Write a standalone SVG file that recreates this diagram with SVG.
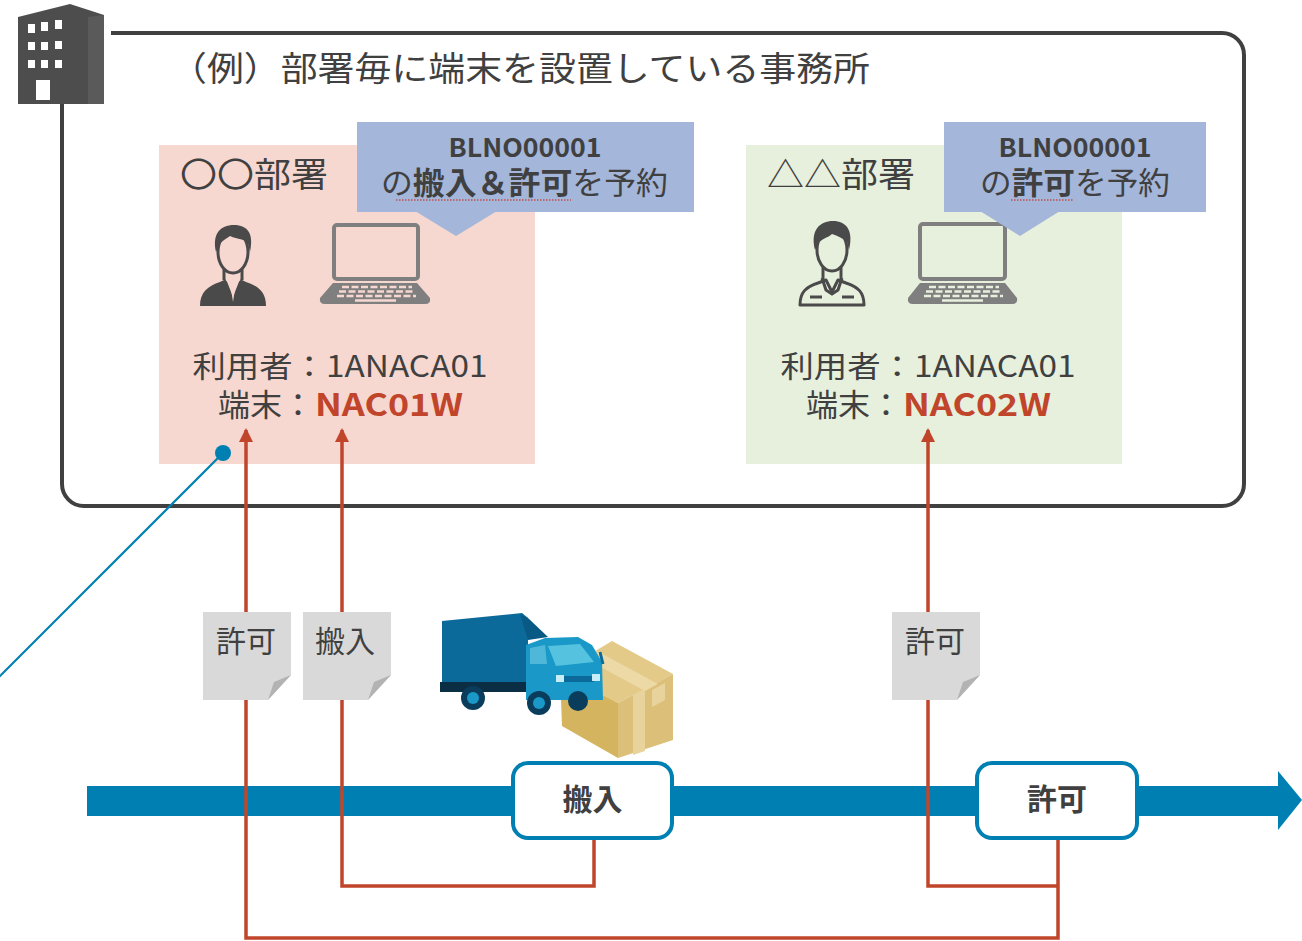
<svg xmlns="http://www.w3.org/2000/svg" width="1302" height="941" viewBox="0 0 1302 941">
  <defs>
    <style>
      .txt { font-family: "Noto Sans CJK JP", "Noto Sans", sans-serif; fill: #404040; }
      .b { font-weight: bold; }
      .red { fill: #c0452b; font-weight: bold; font-family: "Noto Sans CJK JP", "Noto Sans", sans-serif; }
      .flow { fill: none; stroke: #c0452b; stroke-width: 3.5; }
      .note { fill: #d9d9d9; }
      .fold { fill: #b3b3b3; }
      .evt { fill: #ffffff; stroke: #0080b2; stroke-width: 4; }
      .callout { fill: #a4b6d9; }
      .spell { stroke: #c0504d; stroke-width: 1.5; stroke-dasharray: 1.5 1.5; fill: none; }
      .dark { fill: #4a4a4a; }
      .screen { fill: none; stroke: #7f7f7f; stroke-width: 4; }
    </style>
    <marker id="arrowRed" viewBox="0 0 14 14" refX="12" refY="7" markerWidth="14" markerHeight="14" markerUnits="userSpaceOnUse" orient="auto">
      <path d="M0,0 L14,7 L0,14 Z" fill="#c0452b"/>
    </marker>
  </defs>

  <rect width="1302" height="941" fill="#ffffff"/>

  <!-- office frame -->
  <g id="office">
    <path d="M111 33 H1222 A22 22 0 0 1 1244 55 V484 A22 22 0 0 1 1222 506 H84 A22 22 0 0 1 62 484 V100" fill="none" stroke="#404040" stroke-width="4"/>
    <g id="building-icon">
      <polygon points="18,17 70,4 104,15 104,104 18,104" fill="#4d4d4d"/>
      <polygon points="88,17 104,15 104,104 88,104" fill="#5a5a5a"/>
      <g fill="#ffffff">
        <rect x="28" y="24" width="7" height="9"/>
        <rect x="41" y="22" width="7" height="9"/>
        <rect x="55" y="20" width="7" height="9"/>
        <rect x="28" y="42" width="7" height="8"/>
        <rect x="41" y="42" width="7" height="8"/>
        <rect x="55" y="41" width="7" height="8"/>
        <rect x="28" y="60" width="7" height="8"/>
        <rect x="41" y="60" width="7" height="8"/>
        <rect x="55" y="60" width="7" height="8"/>
        <rect x="36" y="80" width="14" height="20"/>
      </g>
    </g>
    <text class="txt" x="170" y="81" font-size="34" textLength="700" lengthAdjust="spacingAndGlyphs">（例）部署毎に端末を設置している事務所</text>
  </g>

  <!-- department A -->
  <g id="dept-a">
    <rect x="159" y="145" width="376" height="319" fill="#f6d8d0"/>
    <text class="txt" x="180" y="187" font-size="34" textLength="148" lengthAdjust="spacingAndGlyphs">〇〇部署</text>
    <g id="person-a">
      <path d="M200 306 C200 292 208 286 220 282 L226 279 L233 297 L240 279 L246 282 C258 286 266 292 266 306 Z" class="dark"/>
      <path d="M226 279 L233 286 L240 279" fill="none" stroke="#f6d8d0" stroke-width="2"/>
      <path d="M231 289 L233 302 L235 289 Z" fill="#f6d8d0"/>
      <path d="M224 268 L224 280 M242 268 L242 280" stroke="#4a4a4a" stroke-width="3"/>
      <ellipse cx="233" cy="252" rx="15" ry="21" fill="#f6d8d0" stroke="#4a4a4a" stroke-width="3"/>
      <path d="M216 252 C212 234 220 225 234 225 C248 225 254 234 250 252 L248 244 C245 238 238 240 230 236 C224 240 220 242 218 248 Z" class="dark"/>
    </g>
    <g id="laptop-a">
      <rect x="334" y="225" width="84" height="54" rx="3" class="screen"/>
      <path d="M333 283 H417 L430 298 Q431 304 425 304 H325 Q319 304 320 298 Z" fill="#7f7f7f"/>
      <g stroke="#f6d8d0" stroke-width="2.5" stroke-dasharray="7 2.5">
        <line x1="342" y1="287" x2="412" y2="287"/>
        <line x1="339" y1="291.5" x2="414" y2="291.5"/>
        <line x1="337" y1="296" x2="416" y2="296"/>
      </g>
      <line x1="355" y1="300.5" x2="396" y2="300.5" stroke="#f6d8d0" stroke-width="2.5"/>
    </g>
    <text class="txt" x="340" y="377" font-size="30" text-anchor="middle" textLength="295" lengthAdjust="spacingAndGlyphs">利用者：1ANACA01</text>
    <text class="txt" x="218" y="416" font-size="31" textLength="96" lengthAdjust="spacingAndGlyphs">端末：</text>
    <text class="red" x="315" y="416" font-size="31" textLength="148" lengthAdjust="spacingAndGlyphs">NAC01W</text>
  </g>

  <g id="callout-a">
    <rect x="357" y="122" width="337" height="90" class="callout"/>
    <polygon points="415,211 497,211 456,236" class="callout"/>
    <text class="txt b" x="525" y="157" font-size="26" text-anchor="middle" textLength="153" lengthAdjust="spacingAndGlyphs">BLNO00001</text>
    <text class="txt" x="381" y="194" font-size="31" textLength="287" lengthAdjust="spacingAndGlyphs">の<tspan class="b">搬入＆許可</tspan>を予約</text>
    <line x1="396" y1="200" x2="571" y2="200" class="spell"/>
  </g>

  <!-- department B -->
  <g id="dept-b">
    <rect x="746" y="145" width="376" height="319" fill="#e7efdd"/>
    <text class="txt" x="767" y="187" font-size="34" textLength="148" lengthAdjust="spacingAndGlyphs">△△部署</text>
    <g id="person-b">
      <path d="M800 305 C800 292 806 287 818 283 L826 280 L832 292 L838 280 L846 283 C858 287 864 292 864 305 Z" fill="#e7efdd" stroke="#4a4a4a" stroke-width="3" stroke-linejoin="round"/>
      <path d="M822 278 L826 290 L832 294 L838 290 L842 278" fill="none" stroke="#4a4a4a" stroke-width="3"/>
      <path d="M810 297 H822 M842 297 H854" stroke="#4a4a4a" stroke-width="3"/>
      <path d="M823 266 L823 279 M841 266 L841 279" stroke="#4a4a4a" stroke-width="3"/>
      <ellipse cx="832" cy="250" rx="15" ry="21" fill="#e7efdd" stroke="#4a4a4a" stroke-width="3"/>
      <path d="M815 250 C810 230 820 221 833 221 C846 221 854 230 849 250 L847 242 C842 238 838 236 832 234 C828 238 822 238 818 244 Z" class="dark"/>
    </g>
    <g id="laptop-b">
      <rect x="920" y="224" width="85" height="55" rx="3" class="screen"/>
      <path d="M920 283 H1005 L1017 298 Q1018 304 1012 304 H913 Q907 304 908 298 Z" fill="#7f7f7f"/>
      <g stroke="#e7efdd" stroke-width="2.5" stroke-dasharray="7 2.5">
        <line x1="929" y1="287" x2="999" y2="287"/>
        <line x1="926" y1="291.5" x2="1001" y2="291.5"/>
        <line x1="924" y1="296" x2="1003" y2="296"/>
      </g>
      <line x1="942" y1="300.5" x2="983" y2="300.5" stroke="#e7efdd" stroke-width="2.5"/>
    </g>
    <text class="txt" x="928" y="377" font-size="30" text-anchor="middle" textLength="295" lengthAdjust="spacingAndGlyphs">利用者：1ANACA01</text>
    <text class="txt" x="806" y="416" font-size="31" textLength="96" lengthAdjust="spacingAndGlyphs">端末：</text>
    <text class="red" x="903" y="416" font-size="31" textLength="148" lengthAdjust="spacingAndGlyphs">NAC02W</text>
  </g>

  <g id="callout-b">
    <rect x="944" y="122" width="262" height="90" class="callout"/>
    <polygon points="980,211 1060,211 1020,236" class="callout"/>
    <text class="txt b" x="1075" y="157" font-size="26" text-anchor="middle" textLength="153" lengthAdjust="spacingAndGlyphs">BLNO00001</text>
    <text class="txt" x="980" y="194" font-size="31" textLength="190" lengthAdjust="spacingAndGlyphs">の<tspan class="b">許可</tspan>を予約</text>
    <line x1="1011" y1="200" x2="1073" y2="200" class="spell"/>
  </g>

  <!-- leader line to the terminal -->
  <g id="leader">
    <line x1="223" y1="453" x2="-2" y2="678" stroke="#0080b2" stroke-width="2.2"/>
    <circle cx="223" cy="453" r="8" fill="#0080b2"/>
  </g>

  <!-- timeline -->
  <g id="timeline">
    <rect x="87" y="786" width="1193" height="30" fill="#0080b2"/>
    <polygon points="1278,771 1302,800 1278,830" fill="#0080b2"/>
  </g>

  <!-- connectors -->
  <g id="connectors">
    <path d="M1058 838 V938 H246 V430" class="flow" marker-end="url(#arrowRed)"/>
    <path d="M594 838 V886 H342 V430" class="flow" marker-end="url(#arrowRed)"/>
    <path d="M1058 886 H928 V430" class="flow" marker-end="url(#arrowRed)"/>
  </g>

  <!-- document notes -->
  <g id="note-permit-a">
    <polygon points="203,612 291,612 291,675 268,700 203,700" class="note"/>
    <polygon points="291,675 268,700 274,682" class="fold"/>
    <text class="txt" x="216" y="652" font-size="30">許可</text>
  </g>
  <g id="note-import-a">
    <polygon points="303,612 391,612 391,675 368,700 303,700" class="note"/>
    <polygon points="391,675 368,700 374,682" class="fold"/>
    <text class="txt" x="315" y="652" font-size="30">搬入</text>
  </g>
  <g id="note-permit-b">
    <polygon points="892,612 980,612 980,675 957,700 892,700" class="note"/>
    <polygon points="980,675 957,700 963,682" class="fold"/>
    <text class="txt" x="905" y="652" font-size="30">許可</text>
  </g>

  <!-- cargo box and truck -->
  <g id="cargo">
    <polygon points="560,672 612,641 673,674 618,703" fill="#e3ca88"/>
    <polygon points="560,672 618,703 618,758 562,726" fill="#d4b45e"/>
    <polygon points="618,703 673,674 673,740 618,758" fill="#dcc07a"/>
    <polygon points="633,695 645,689 645,751 633,755" fill="#e8d39c"/>
    <polygon points="584,658 597,651 658,684 645,691" fill="#ecd9a6"/>
    <polygon points="652,690 665,683 665,700 652,707" fill="#e8d39c"/>
  </g>
  <g id="truck">
    <polygon points="442,621 522,613 528,618 528,688 442,688" fill="#0b6a99"/>
    <polygon points="520,614 528,618 548,637 528,640" fill="#085a84"/>
    <rect x="440" y="682" width="100" height="10" fill="#0a2f45"/>
    <polygon points="526,645 545,638 578,637 592,645 602,662 603,700 526,700" fill="#1a98c8"/>
    <polygon points="548,646 580,644 594,662 556,666" fill="#55c3df"/>
    <polygon points="530,648 545,645 547,664 530,664" fill="#4fb8d8"/>
    <rect x="560" y="676" width="34" height="6" fill="#0b6a99"/>
    <rect x="556" y="675" width="8" height="7" fill="#c8edf7"/>
    <rect x="592" y="674" width="8" height="7" fill="#c8edf7"/>
    <line x1="600" y1="652" x2="603" y2="664" stroke="#0b6a99" stroke-width="3"/>
    <circle cx="473" cy="698" r="12" fill="#0a3d5c"/>
    <circle cx="473" cy="698" r="6" fill="#1a98c8"/>
    <circle cx="539" cy="703" r="12" fill="#0a3d5c"/>
    <circle cx="539" cy="703" r="6" fill="#1a98c8"/>
    <circle cx="578" cy="701" r="10" fill="#0a3d5c"/>
  </g>

  <!-- timeline events -->
  <g id="event-import">
    <rect x="513" y="763" width="159" height="75" rx="15" class="evt"/>
    <text class="txt b" x="592.5" y="810" font-size="30" text-anchor="middle">搬入</text>
  </g>
  <g id="event-permit">
    <rect x="977" y="763" width="160" height="75" rx="15" class="evt"/>
    <text class="txt b" x="1057" y="810" font-size="30" text-anchor="middle">許可</text>
  </g>
</svg>
